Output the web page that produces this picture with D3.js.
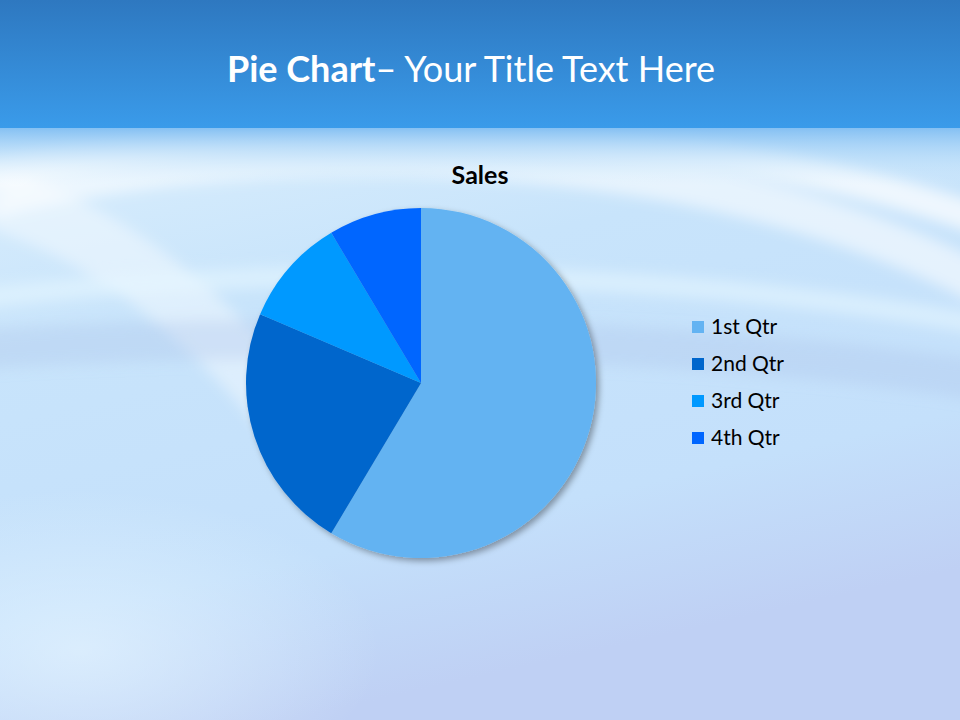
<!DOCTYPE html>
<html>
<head>
<meta charset="utf-8">
<script src="https://cdn.jsdelivr.net/npm/d3@7"></script>
<style>
  html, body { margin: 0; padding: 0; }
  body { width: 960px; height: 720px; overflow: hidden; font-family: Lato, "Open Sans", sans-serif; }
</style>
</head>
<body>
<svg id="chart" width="960" height="720"></svg>
<script>
// data
const categories = ["1st Qtr", "2nd Qtr", "3rd Qtr", "4th Qtr"];
const sales = [8.2, 3.2, 1.4, 1.2];
const colors = ["#63b3f2", "#0066cc", "#0099ff", "#0066ff"];

const width = 960, height = 720;
const svg = d3.select("#chart");
const defs = svg.append("defs");

// background gradients
const bg = defs.append("linearGradient").attr("id", "bg")
    .attr("x1", 0).attr("y1", 0).attr("x2", 0.3).attr("y2", 1);
bg.append("stop").attr("offset", "0%").attr("stop-color", "#e6f5fe");
bg.append("stop").attr("offset", "45%").attr("stop-color", "#c8e4fb");
bg.append("stop").attr("offset", "80%").attr("stop-color", "#c4e0fb");
bg.append("stop").attr("offset", "100%").attr("stop-color", "#bfd0f4");

const band = defs.append("linearGradient").attr("id", "band")
    .attr("x1", 0).attr("y1", 0).attr("x2", 0).attr("y2", 1);
band.append("stop").attr("offset", "0%").attr("stop-color", "#2e78c0");
band.append("stop").attr("offset", "100%").attr("stop-color", "#3a9bea");

const fade = defs.append("linearGradient").attr("id", "fade")
    .attr("x1", 0).attr("y1", 0).attr("x2", 0).attr("y2", 1);
fade.append("stop").attr("offset", "0%").attr("stop-color", "#7fbdf2").attr("stop-opacity", 1);
fade.append("stop").attr("offset", "100%").attr("stop-color", "#d9effd").attr("stop-opacity", 0);

const glow = defs.append("radialGradient").attr("id", "glow");
glow.append("stop").attr("offset", "0%").attr("stop-color", "#e4f4ff").attr("stop-opacity", 0.7);
glow.append("stop").attr("offset", "100%").attr("stop-color", "#e4f4ff").attr("stop-opacity", 0);

defs.append("filter").attr("id", "blur").attr("x", "-20%").attr("y", "-20%")
    .attr("width", "140%").attr("height", "140%")
    .append("feGaussianBlur").attr("stdDeviation", 7);

const shadow = defs.append("filter").attr("id", "shadow")
    .attr("x", "-20%").attr("y", "-20%").attr("width", "140%").attr("height", "140%");
shadow.append("feDropShadow").attr("dx", 3).attr("dy", 3)
    .attr("stdDeviation", 3).attr("flood-color", "#000").attr("flood-opacity", 0.35);

svg.append("rect").attr("width", width).attr("height", height).attr("fill", "url(#bg)");
svg.append("ellipse").attr("cx", 80).attr("cy", 650).attr("rx", 300).attr("ry", 160)
    .attr("fill", "url(#glow)");

// soft swooshes
const swoosh = svg.append("g").attr("filter", "url(#blur)").attr("fill", "none");
swoosh.append("path").attr("d", "M-50,210 C200,130 700,120 1010,300")
    .attr("stroke", "#ffffff").attr("stroke-width", 40).attr("opacity", 0.55);
swoosh.append("path").attr("d", "M-50,180 C250,110 650,100 1010,230")
    .attr("stroke", "#ffffff").attr("stroke-width", 30).attr("opacity", 0.7);
swoosh.append("path").attr("d", "M0,200 C120,240 220,320 330,470")
    .attr("stroke", "#ffffff").attr("stroke-width", 60).attr("opacity", 0.4);
swoosh.append("path").attr("d", "M-40,350 C300,330 700,335 1010,385")
    .attr("stroke", "#a9c0e8").attr("stroke-width", 40).attr("opacity", 0.3);
swoosh.append("path").attr("d", "M-40,300 C300,260 700,270 1010,330")
    .attr("stroke", "#e6f7ff").attr("stroke-width", 20).attr("opacity", 0.6);

svg.append("rect").attr("y", 126).attr("width", width).attr("height", 60).attr("fill", "url(#fade)");
svg.append("rect").attr("width", width).attr("height", 128).attr("fill", "url(#band)");

// title
const title = svg.append("text").attr("x", 471).attr("y", 82)
    .attr("text-anchor", "middle").attr("fill", "#fff")
    .style("font-family", "Lato, 'Open Sans', sans-serif").style("font-size", "36px");
title.append("tspan").attr("font-weight", "bold").text("Pie Chart");
title.append("tspan").text("\u2013 Your Title Text Here");

svg.append("text").attr("x", 480).attr("y", 184).attr("text-anchor", "middle")
    .attr("font-weight", "bold").attr("fill", "#000")
    .style("font-size", "25px").text("Sales");

// pie
const cx = 421, cy = 383, radius = 175;
const pie = d3.pie().sort(null).value(d => d.value);
const arc = d3.arc().innerRadius(0).outerRadius(radius);
const data = categories.map((c, i) => ({ name: c, value: sales[i], color: colors[i] }));

const pieG = svg.append("g").attr("transform", `translate(${cx},${cy})`)
    .attr("filter", "url(#shadow)");
pieG.selectAll("path").data(pie(data)).join("path")
    .attr("d", arc)
    .attr("fill", d => d.data.color);

// legend
const legendY = d3.scalePoint().domain(categories).range([327, 438]);
const legend = svg.append("g").selectAll("g").data(data).join("g")
    .attr("transform", d => `translate(692,${legendY(d.name)})`);
legend.append("rect").attr("x", 0).attr("y", -6).attr("width", 12).attr("height", 12)
    .attr("fill", d => d.color);
legend.append("text").attr("x", 19).attr("y", 7).attr("fill", "#000")
    .style("font-size", "21px").text(d => d.name);
</script>
</body>
</html>
